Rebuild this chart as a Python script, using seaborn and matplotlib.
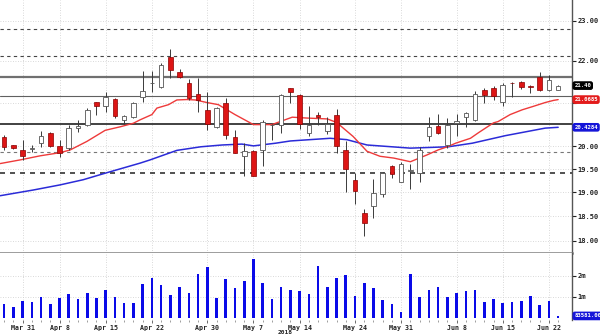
import numpy as np
import pandas as pd
import matplotlib
matplotlib.use("Agg")
import matplotlib.pyplot as plt
import matplotlib.ticker as mticker
import matplotlib.transforms as mtransforms
import seaborn as sns

# ---------------- data ----------------
opens = [20.21, 20.02, 19.92, 19.95, 20.07, 20.30, 20.01, 19.96, 20.42, 20.47,
         21.01, 20.92, 21.08, 20.59, 20.66, 21.14, 21.45, 21.37, 22.09, 21.72,
         21.45, 21.21, 20.83, 20.44, 21.00, 20.21, 19.78, 19.89, 19.91, 20.47,
         20.49, 21.34, 21.18, 20.30, 20.72, 20.34, 20.72, 19.91, 19.26, 18.56,
         18.72, 18.97, 19.56, 19.23, 19.45, 19.42, 20.24, 20.45, 20.03, 20.53,
         20.66, 20.59, 21.30, 21.34, 21.01, 21.47, 21.48, 21.38, 21.61, 21.29,
         21.30]
highs = [20.26, 20.04, 20.15, 20.03, 20.34, 20.33, 20.15, 20.47, 20.60, 20.88,
         21.01, 21.25, 21.11, 20.72, 21.02, 21.74, 21.74, 21.94, 22.28, 21.81,
         21.56, 21.58, 21.25, 20.90, 21.10, 20.37, 20.07, 19.92, 20.60, 20.51,
         21.20, 21.35, 21.19, 20.92, 20.79, 20.66, 20.85, 20.11, 19.42, 18.65,
         19.29, 19.43, 19.59, 19.65, 19.62, 19.99, 20.66, 20.74, 20.64, 20.74,
         20.79, 21.26, 21.34, 21.38, 21.46, 21.48, 21.50, 21.42, 21.72, 21.66,
         21.42]
lows = [19.92, 19.94, 19.70, 19.88, 19.98, 19.98, 19.77, 19.92, 20.33, 20.45,
        20.72, 20.79, 20.65, 20.51, 20.64, 21.02, 21.25, 21.35, 21.58, 21.59,
        21.06, 20.77, 20.37, 20.42, 20.16, 19.85, 19.34, 19.34, 19.56, 20.15,
        20.30, 21.00, 20.39, 20.24, 20.49, 20.28, 19.85, 19.00, 18.76, 18.09,
        18.46, 18.91, 19.31, 19.23, 19.07, 19.23, 20.13, 20.28, 19.96, 20.24,
        20.44, 20.57, 21.00, 21.06, 20.91, 21.14, 21.32, 21.22, 21.28, 21.26,
        21.29]
closes = [19.99, 19.96, 19.79, 19.97, 20.24, 20.01, 19.86, 20.41, 20.45, 20.83,
          20.92, 21.14, 20.69, 20.68, 21.00, 21.28, 21.47, 21.90, 21.77, 21.61,
          21.10, 21.05, 20.51, 20.87, 20.26, 19.86, 19.89, 19.36, 20.56, 20.48,
          21.18, 21.24, 20.51, 20.49, 20.66, 20.51, 20.01, 19.50, 19.04, 18.37,
          18.98, 19.42, 19.40, 19.62, 19.47, 19.92, 20.44, 20.30, 20.49, 20.58,
          20.76, 21.21, 21.18, 21.16, 21.42, 21.45, 21.37, 21.36, 21.30, 21.54,
          21.40]
volumes_m = [0.65, 0.52, 0.81, 0.73, 0.97, 0.64, 0.92, 1.11, 0.88, 1.16,
             0.95, 1.32, 0.97, 0.68, 0.71, 1.60, 1.88, 1.56, 1.08, 1.45,
             1.19, 2.08, 2.40, 0.95, 1.83, 1.40, 1.75, 2.78, 1.64, 0.90,
             1.45, 1.32, 1.29, 1.11, 2.46, 1.45, 1.88, 2.03, 1.03, 1.64,
             1.40, 0.84, 0.64, 0.26, 2.07, 1.00, 1.32, 1.48, 1.00, 1.19,
             1.27, 1.32, 0.76, 0.89, 0.71, 0.76, 0.80, 1.05, 0.60, 0.80,
             0.0836]

red_ma_idx = [-0.43, 1.73, 3.9, 6.07, 7.15, 8.96, 10.94, 12.57, 13.98, 14.73,
              16.0, 16.54, 17.8, 18.7, 19.8, 20.7, 21.96, 23.2, 25.0, 27.0,
              29.0, 29.9, 31.2, 32.8, 35.0, 36.0, 37.8, 39.3, 40.7, 42.2,
              44.0, 45.8, 47.0, 48.0, 48.9, 50.5, 51.4, 53.0, 53.5, 54.8,
              56.1, 57.3, 58.6, 59.5, 60.0]
red_ma_val = [19.62, 19.70, 19.79, 19.86, 19.92, 20.11, 20.36, 20.44, 20.52, 20.60,
              20.72, 20.87, 20.95, 21.06, 21.07, 21.06, 21.00, 20.95, 20.72, 20.49,
              20.49, 20.56, 20.66, 20.64, 20.62, 20.54, 20.22, 19.89, 19.78, 19.74,
              19.66, 19.81, 19.92, 19.99, 20.07, 20.18, 20.31, 20.53, 20.56, 20.72,
              20.83, 20.91, 21.00, 21.05, 21.0685]
blue_ma_idx = [-0.43, 3.14, 6.07, 8.56, 11.1, 14.73, 15.8, 18.7, 21.3, 23.6,
               25.75, 27.0, 29.4, 31.0, 35.3, 37.1, 39.3, 44.0, 48.1, 50.7,
               54.3, 58.6, 60.0]
blue_ma_val = [18.93, 19.05, 19.16, 19.27, 19.42, 19.63, 19.70, 19.91, 19.99, 20.03,
               20.05, 20.01, 20.07, 20.12, 20.18, 20.15, 20.03, 19.96, 19.99, 20.07,
               20.24, 20.41, 20.4284]

solid_levels = [21.61, 21.16, 20.51]
dashed_levels = [22.80, 22.11, 19.87, 19.42]
price_ticks = [18.0, 18.5, 19.0, 19.5, 20.0, 21.0, 22.0, 23.0]
price_tick_labels = ["18.00", "18.50", "19.00", "19.50", "20.00", "", "22.00", "23.00"]
vol_ticks = [1, 2]
vol_tick_labels = ["1m", "2m"]
date_tick_idx = [2, 6, 11, 16, 22, 27, 32, 38, 43, 49, 54, 59]
date_tick_labels = ["Mar 31", "Apr 8", "Apr 15", "Apr 22", "Apr 30", "May 7",
                    "May 14", "May 24", "May 31", "Jun 8", "Jun 15", "Jun 22"]
last_close = 21.40
red_ma_last = 21.0685
blue_ma_last = 20.4284
last_volume = 83581.00

# ---------------- figure ----------------
sns.set_theme(style="white")
plt.rcParams['font.family'] = ['DejaVu Sans']

W, H = 600, 335
fig = plt.figure(figsize=(W / 100, H / 100), dpi=100)
ax = fig.add_axes([0, 1 - 253 / H, 572 / W, 253 / H])
axv = fig.add_axes([0, 1 - 320 / H, 572 / W, 67 / H])

n = len(opens)
x = np.arange(n)
df = pd.DataFrame({"i": x, "open": opens, "high": highs, "low": lows,
                   "close": closes, "vol": volumes_m})

ax.set_yscale("log")
ax.set_ylim(17.76, 23.54)
ax.set_xlim(-0.45, 61.5)

grid_kw = dict(color="#cdcdcd", lw=0.6, ls=(0, (1, 2)), zorder=0)
for t in price_ticks:
    ax.axhline(t, **grid_kw)
for t in date_tick_idx:
    ax.axvline(t, **grid_kw)
    axv.axvline(t, **grid_kw)
for t in vol_ticks:
    axv.axhline(t, **grid_kw)

# support / resistance levels
ax.axhline(solid_levels[0], color="#707070", lw=1.6, zorder=1)
ax.axhline(solid_levels[1], color="#606060", lw=0.8, zorder=1)
ax.axhline(solid_levels[2], color="#333333", lw=1.3, zorder=1)
ax.axhline(dashed_levels[0], color="#444444", lw=0.8, ls=(0, (3, 3)), zorder=1)
ax.axhline(dashed_levels[1], color="#444444", lw=0.8, ls=(0, (3, 3)), zorder=1)
ax.axhline(dashed_levels[2], color="#777777", lw=0.8, ls=(0, (3, 3)), zorder=1)
ax.axhline(dashed_levels[3], color="#333333", lw=1.2, ls=(0, (3, 3)), zorder=1)

# moving averages
sns.lineplot(x=blue_ma_idx, y=blue_ma_val, ax=ax, color="#2b2bd8", lw=1.1,
             estimator=None, sort=False, zorder=2)
sns.lineplot(x=red_ma_idx, y=red_ma_val, ax=ax, color="#ee3a3a", lw=1.0,
             estimator=None, sort=False, zorder=2)

# candlesticks
ax.vlines(df["i"], df["low"], df["high"], color="#3a3a3a", lw=0.7, zorder=3)
down = df["close"] < df["open"]
bottoms = np.minimum(df["open"], df["close"])
heights = np.maximum(np.abs(df["close"] - df["open"]), 0.015)
ax.bar(df["i"][down], heights[down], bottom=bottoms[down], width=0.5,
       color="#dd1515", edgecolor="#8a0000", lw=0.5, zorder=4)
ax.bar(df["i"][~down], heights[~down], bottom=bottoms[~down], width=0.5,
       color="white", edgecolor="#555555", lw=0.6, zorder=4)

# volume
sns.barplot(data=df, x="i", y="vol", ax=axv, native_scale=True, width=0.28,
            color="#0a0ae8", saturation=1, linewidth=0, zorder=3)
axv.set_xlim(-0.45, 61.5)
axv.set_ylim(-0.11, 3.08)

for a in (ax, axv):
    a.set_xlabel("")
    a.set_ylabel("")
    a.set_facecolor("white")
    for s in ("left", "top"):
        a.spines[s].set_visible(False)
    a.spines["right"].set_color("#555555")
    a.spines["right"].set_linewidth(1.0)
    a.yaxis.tick_right()
    a.tick_params(axis="y", which="major", direction="out", length=3, width=0.8,
                  color="#222222", labelsize=5, pad=1, labelcolor="#222222",
                  right=True, left=False)
    a.tick_params(axis="y", which="minor", length=0)

ax.spines["bottom"].set_color("#808080")
ax.spines["bottom"].set_linewidth(1.8)
axv.spines["bottom"].set_visible(False)

ax.yaxis.set_major_locator(mticker.FixedLocator(price_ticks))
ax.yaxis.set_major_formatter(mticker.FixedFormatter(price_tick_labels))
ax.yaxis.set_minor_formatter(mticker.NullFormatter())
ax.yaxis.set_minor_locator(mticker.NullLocator())
ax.set_xticks([])
ax.tick_params(axis="x", length=0, labelbottom=False)

axv.set_yticks(vol_ticks)
axv.set_yticklabels(vol_tick_labels)
axv.set_xticks(date_tick_idx)
axv.set_xticklabels(date_tick_labels)
axv.xaxis.set_minor_locator(mticker.FixedLocator(x))
axv.tick_params(axis="x", which="major", direction="out", length=2.5, width=0.6,
                color="#555555", labelsize=4.8, pad=1.2, labelcolor="#222222",
                bottom=True)
axv.tick_params(axis="x", which="minor", direction="out", length=1.5, width=0.5,
                color="#777777", bottom=True)

for lbl in ax.get_yticklabels() + axv.get_yticklabels() + axv.get_xticklabels():
    lbl.set_fontweight("bold")
    lbl.set_fontfamily("DejaVu Sans Mono")

fig.text(285 / W, 1 - 332.5 / H, "2018", fontsize=4.5, fontweight="bold",
         ha="center", va="center", color="#222222", family="DejaVu Sans Mono")

# value flags on the right axis
def flag(a, y, txt, fc):
    tr = mtransforms.blended_transform_factory(a.transAxes, a.transData)
    a.text(1.004, y, txt, transform=tr, fontsize=4.1, color="white",
           fontweight="bold", family="DejaVu Sans Mono", ha="left", va="center",
           clip_on=False, zorder=20,
           bbox=dict(boxstyle="round,pad=0.2,rounding_size=0.3", fc=fc, ec=fc))

flag(ax, last_close, f"{last_close:.2f}", "black")
flag(ax, red_ma_last, f"{red_ma_last:.4f}", "#e31b1b")
flag(ax, blue_ma_last, f"{blue_ma_last:.4f}", "#1414d8")
flag(axv, last_volume / 1e6, f"{last_volume:.2f}", "#1414d8")

fig.savefig("out.png", dpi=100, facecolor="white")
